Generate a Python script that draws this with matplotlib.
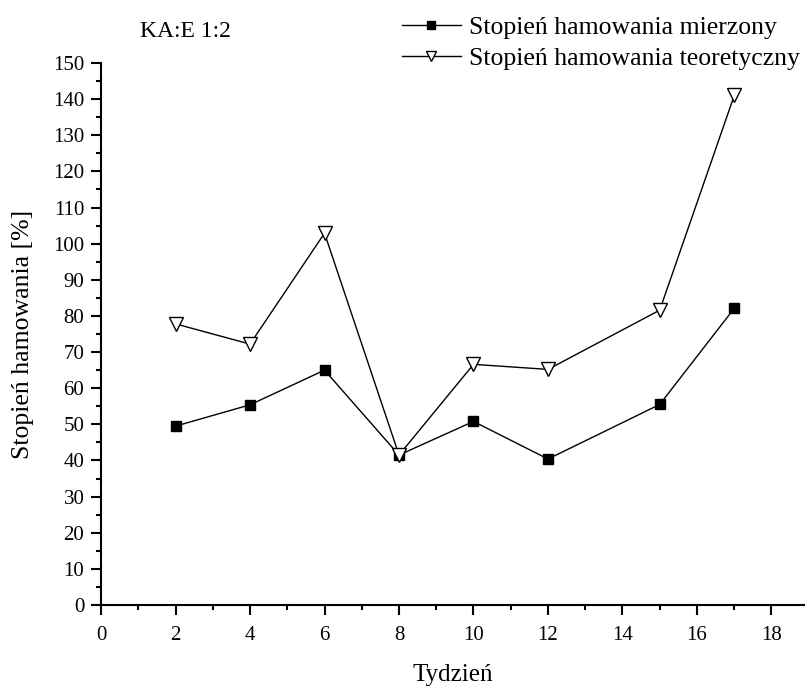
# -*- coding: utf-8 -*-
import matplotlib
matplotlib.use("Agg")
import matplotlib.pyplot as plt
from matplotlib.ticker import MultipleLocator

plt.rcParams['font.family'] = ['Liberation Serif', 'DejaVu Serif']

tydzien = [2, 4, 6, 8, 10, 12, 15, 17]
mierzony = [49.5, 55.4, 65.0, 41.5, 50.8, 40.4, 55.5, 82.1]
teoretyczny = [77.8, 72.2, 102.9, 41.5, 66.6, 65.2, 81.6, 141.0]

fig = plt.figure(figsize=(8.05, 6.89), dpi=100)
ax = fig.add_axes([0.1255, 0.1219, 0.8745, 0.7867])

ax.plot(tydzien, mierzony, color='black', lw=1, marker='s', ms=7.5,
        mfc='black', mec='black', label='Stopień hamowania mierzony')
ax.plot(tydzien, teoretyczny, color='black', lw=1, marker='v', ms=9.5,
        mfc='white', mec='black', mew=1, label='Stopień hamowania teoretyczny')

ax.set_xlim(0, 18.9)
ax.set_ylim(0, 150)
ax.xaxis.set_major_locator(MultipleLocator(2))
ax.xaxis.set_minor_locator(MultipleLocator(1))
ax.yaxis.set_major_locator(MultipleLocator(10))
ax.yaxis.set_minor_locator(MultipleLocator(5))

for s in ['top', 'right']:
    ax.spines[s].set_visible(False)
for s in ['left', 'bottom']:
    ax.spines[s].set_linewidth(1.5)
ax.tick_params(which='major', direction='out', length=7, width=1.5, labelsize=15, pad=5)
ax.tick_params(which='minor', direction='out', length=3.5, width=1.5)
ax.tick_params(axis='x', pad=8)

ax.set_xlabel('Tydzień', fontsize=18, labelpad=14)
ax.set_ylabel('Stopień hamowania [%]', fontsize=18.5, labelpad=14)

fig.text(0.174, 0.955, 'KA:E 1:2', fontsize=17, ha='left', va='center')
leg = fig.legend(loc='upper right', bbox_to_anchor=(1.022, 1.01), frameon=False,
                 fontsize=18.5, handlelength=2.3, handletextpad=0.3,
                 labelspacing=0.32, markerscale=0.8)

plt.savefig('out.png', dpi=100)
